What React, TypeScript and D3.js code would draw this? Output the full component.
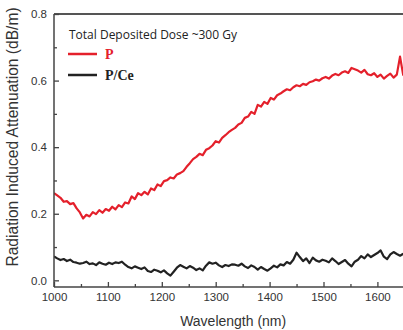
import React, { useEffect, useRef } from "react";
import * as d3 from "d3";

const wavelengths = [
  1000, 1006, 1012, 1018, 1024, 1030, 1036, 1042, 1048, 1054, 1060, 1066, 1072, 1078, 1084, 1090,
  1096, 1102, 1108, 1114, 1120, 1126, 1132, 1138, 1144, 1150, 1156, 1162, 1168, 1174, 1180, 1186,
  1192, 1198, 1204, 1210, 1216, 1222, 1228, 1234, 1240, 1246, 1252, 1258, 1264, 1270, 1276, 1282,
  1288, 1294, 1300, 1306, 1312, 1318, 1324, 1330, 1336, 1342, 1348, 1354, 1360, 1366, 1372, 1378,
  1384, 1390, 1396, 1402, 1408, 1414, 1420, 1426, 1432, 1438, 1444, 1450, 1456, 1462, 1468, 1474,
  1480, 1486, 1492, 1498, 1504, 1510, 1516, 1522, 1528, 1534, 1540, 1546, 1552, 1558, 1564, 1570,
  1576, 1582, 1588, 1594, 1600, 1606, 1612, 1618, 1624, 1630, 1636, 1642, 1648,
];

const seriesP = [
  0.262, 0.255, 0.248, 0.236, 0.238, 0.229, 0.232, 0.216, 0.204, 0.186, 0.197, 0.192, 0.205, 0.199, 0.211, 0.203,
  0.214, 0.209, 0.221, 0.213, 0.226, 0.22, 0.234, 0.231, 0.252, 0.244, 0.262, 0.256, 0.266, 0.258, 0.276, 0.271,
  0.288, 0.283, 0.298, 0.301, 0.309, 0.306, 0.318, 0.322, 0.328, 0.341, 0.352, 0.364, 0.371, 0.38, 0.376, 0.392,
  0.397, 0.405, 0.418, 0.414, 0.428, 0.436, 0.445, 0.452, 0.458, 0.468, 0.473, 0.488, 0.492, 0.506, 0.5, 0.527,
  0.522, 0.536, 0.53, 0.548, 0.543, 0.556, 0.561, 0.568, 0.574, 0.571, 0.58, 0.586, 0.583, 0.59, 0.587, 0.595,
  0.598, 0.603, 0.6, 0.607, 0.611, 0.606, 0.615, 0.62, 0.616, 0.624, 0.628, 0.623, 0.638, 0.634, 0.63, 0.624,
  0.632, 0.619, 0.616, 0.622, 0.611, 0.618, 0.606, 0.614, 0.621, 0.609, 0.618, 0.672, 0.615,
];

const seriesPCe = [
  0.072, 0.066, 0.061, 0.064, 0.058, 0.062, 0.055, 0.053, 0.05, 0.052, 0.056, 0.049, 0.051, 0.046, 0.054, 0.05,
  0.047, 0.053, 0.049, 0.054, 0.052, 0.056, 0.047, 0.04, 0.036, 0.042, 0.038, 0.034, 0.039, 0.028, 0.025, 0.032,
  0.029, 0.024, 0.03, 0.021, 0.014, 0.026, 0.038, 0.046, 0.041, 0.036, 0.043, 0.038, 0.031, 0.036, 0.03, 0.044,
  0.054, 0.05, 0.053, 0.045, 0.04, 0.046, 0.043, 0.048, 0.047, 0.044, 0.05, 0.042, 0.037, 0.045, 0.04, 0.032,
  0.04, 0.034, 0.029, 0.036, 0.044, 0.039, 0.048, 0.045, 0.055, 0.05, 0.062, 0.083, 0.07, 0.058, 0.066, 0.052,
  0.068, 0.06, 0.056, 0.062, 0.059, 0.054, 0.066, 0.058, 0.049, 0.055, 0.061, 0.05, 0.042, 0.056, 0.062, 0.073,
  0.066, 0.078, 0.07, 0.076, 0.082, 0.09, 0.071, 0.064, 0.078, 0.085, 0.079, 0.074, 0.08,
];

const xMajorTicks = [1000, 1100, 1200, 1300, 1400, 1500, 1600];
const xMinorTicks = [1050, 1150, 1250, 1350, 1450, 1550];
const yMajorTicks = [0.0, 0.2, 0.4, 0.6, 0.8];
const yMinorTicks = [0.1, 0.3, 0.5, 0.7];

const legendTitle = "Total Deposited Dose ~300 Gy";
const legendNames = ["P", "P/Ce"];
const seriesColors = ["#e4202b", "#222222"];

const W = 403;
const H = 330;
const left = 54;
const top = 14;
const bottom = 287;

export default function App() {
  const xAxisRef = useRef<SVGGElement>(null);
  const yAxisRef = useRef<SVGGElement>(null);

  const x = d3.scaleLinear().domain([1000, 1650]).range([left, left + 650 * 0.539]);
  const y = d3.scaleLinear().domain([-0.02, 0.8]).range([bottom, top]);

  const line = d3
    .line<number>()
    .x((_, i) => x(wavelengths[i]))
    .y((d) => y(d));

  useEffect(() => {
    const gx = d3.select(xAxisRef.current);
    gx.selectAll("*").remove();
    gx.call(
      d3.axisBottom(x).tickValues(xMajorTicks).tickSize(-5).tickPadding(6).tickFormat(d3.format("d"))
    );
    gx.call(
      (g) => g.append("g").call(d3.axisBottom(x).tickValues(xMinorTicks).tickSize(-3).tickFormat(() => ""))
    );
    gx.selectAll(".domain").remove();
    gx.selectAll("line").attr("stroke", "#444").attr("stroke-width", 1.3);
    gx.selectAll("text")
      .attr("fill", "#333")
      .style("font-family", "Liberation Sans, Arial, sans-serif")
      .style("font-size", "11.5px");

    const gy = d3.select(yAxisRef.current);
    gy.selectAll("*").remove();
    gy.call(
      d3.axisLeft(y).tickValues(yMajorTicks).tickSize(-5).tickPadding(7).tickFormat(d3.format(".1f"))
    );
    gy.call(
      (g) => g.append("g").call(d3.axisLeft(y).tickValues(yMinorTicks).tickSize(-3).tickFormat(() => ""))
    );
    gy.selectAll(".domain").remove();
    gy.selectAll("line").attr("stroke", "#444").attr("stroke-width", 1.3);
    gy.selectAll("text")
      .attr("fill", "#333")
      .style("font-family", "Liberation Sans, Arial, sans-serif")
      .style("font-size", "11.5px");
  }, []);

  return (
    <svg
      width={W}
      height={H}
      style={{ position: "absolute", left: 0, top: 0, background: "#fff" }}
    >
      <defs>
        <clipPath id="plotclip">
          <rect x={left} y={top} width={W - left} height={bottom - top} />
        </clipPath>
      </defs>
      <g clipPath="url(#plotclip)">
        <path d={line(seriesPCe) || ""} fill="none" stroke={seriesColors[1]} strokeWidth={2.2} strokeLinejoin="round" />
        <path d={line(seriesP) || ""} fill="none" stroke={seriesColors[0]} strokeWidth={2.2} strokeLinejoin="round" />
      </g>
      <line x1={left} x2={W} y1={top} y2={top} stroke="#555" strokeWidth={2} />
      <line x1={left} x2={left} y1={top} y2={bottom} stroke="#444" strokeWidth={1.5} />
      <line x1={left} x2={W} y1={bottom} y2={bottom} stroke="#444" strokeWidth={1.5} />
      <g ref={xAxisRef} transform={`translate(0,${bottom})`} />
      <g ref={yAxisRef} transform={`translate(${left},0)`} />

      <text
        x={(x(1000) + x(1650)) / 2 + 4}
        y={326}
        textAnchor="middle"
        fill="#333"
        style={{ fontFamily: "Liberation Sans, Arial, sans-serif", fontSize: "14px" }}
      >
        Wavelength (nm)
      </text>
      <text
        transform={`translate(17.5,137) rotate(-90)`}
        textAnchor="middle"
        fill="#333"
        style={{ fontFamily: "Liberation Sans, Arial, sans-serif", fontSize: "15.6px" }}
      >
        Radiation Induced Attenuation (dB/m)
      </text>

      <text
        x={69}
        y={39}
        fill="#222"
        style={{ fontFamily: "Open Sans, sans-serif", fontSize: "12px" }}
      >
        {legendTitle}
      </text>
      {legendNames.map((name, i) => (
        <g key={name} transform={`translate(0,${54 + i * 21})`}>
          <line x1={68} x2={97} y1={0} y2={0} stroke={seriesColors[i]} strokeWidth={2.5} />
          <text
            x={105}
            y={5}
            fill={seriesColors[i]}
            style={{ fontFamily: "Liberation Serif, Times New Roman, serif", fontSize: "14px", fontWeight: "bold" }}
          >
            {name}
          </text>
        </g>
      ))}
    </svg>
  );
}
